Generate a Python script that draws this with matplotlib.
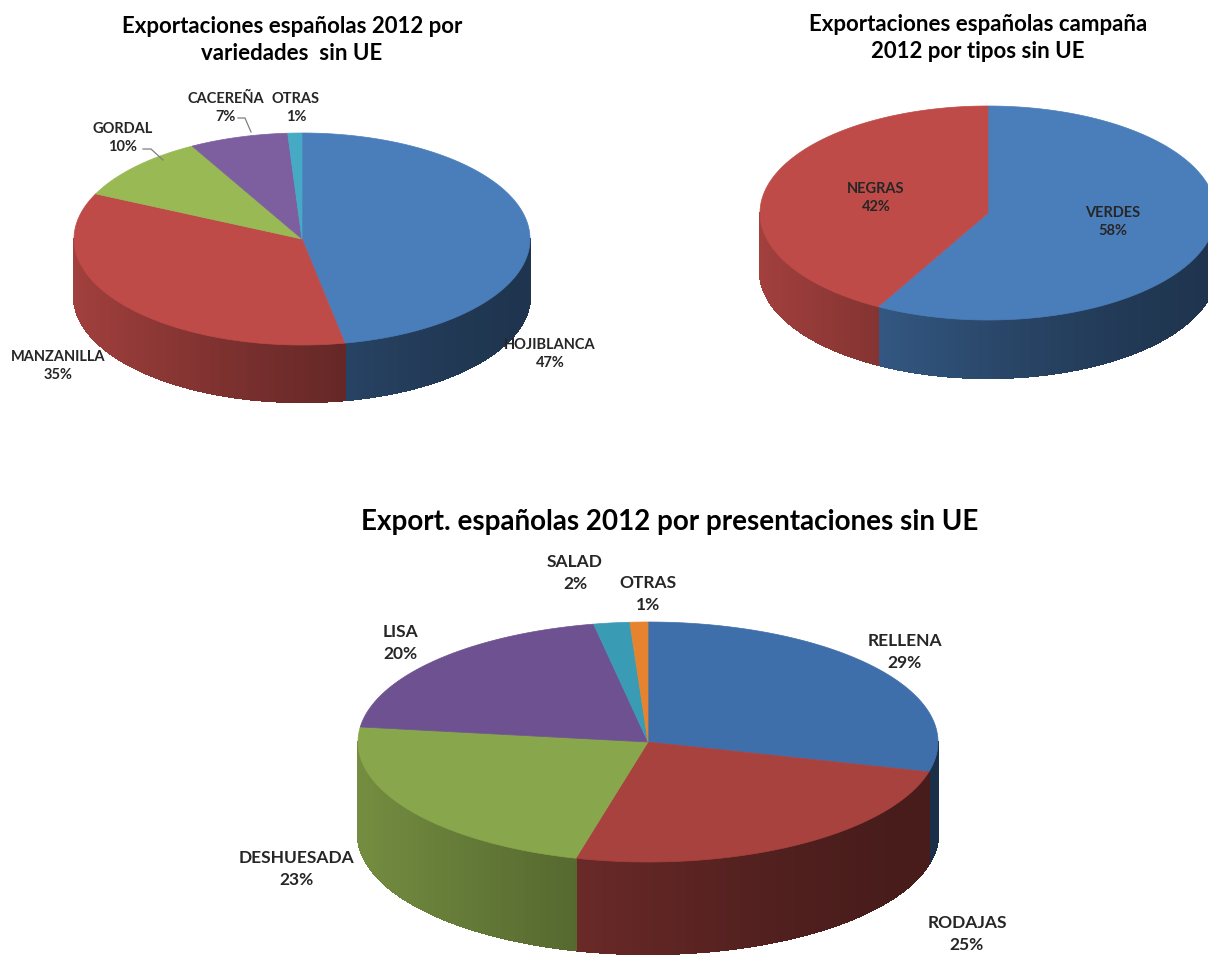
import numpy as np
import matplotlib.pyplot as plt
from matplotlib.patches import Polygon
from matplotlib.collections import PolyCollection
from matplotlib.colors import to_rgb

# Datos
variedades = ["HOJIBLANCA", "MANZANILLA", "GORDAL", "CACEREÑA", "OTRAS"]
variedades_pct = [47, 35, 10, 7, 1]

tipos = ["VERDES", "NEGRAS"]
tipos_pct = [58, 42]

presentaciones = ["RELLENA", "RODAJAS", "DESHUESADA", "LISA", "SALAD", "OTRAS"]
presentaciones_pct = [29, 25, 23, 20, 2, 1]

titulo1 = "Exportaciones españolas 2012 por\nvariedades  sin UE"
titulo2 = "Exportaciones españolas campaña\n2012 por tipos sin UE"
titulo3 = "Export. españolas 2012 por presentaciones sin UE"

colores1 = ["#4a7ebb", "#be4b48", "#98b954", "#7d5fa0", "#46aac5"]
colores2 = ["#4a7ebb", "#be4b48"]
colores3 = ["#3f6fab", "#a8423f", "#88a64b", "#6e5190", "#3a9bb5", "#e5832f"]

FUENTE = "Lato"


def sombra(color, u):
    # u: -1 izquierda, 1 derecha
    f = 0.42 + 0.43 * ((1 - u) / 2) ** 1.5
    r, g, b = to_rgb(color)
    return (r * f, g * f, b * f)


def tarta3d(ax, valores, colores, cx, cy, rx, ry, prof):
    total = float(sum(valores))
    bordes = np.concatenate([[0], np.cumsum(valores)]) / total * 2 * np.pi
    # laterales (solo la mitad frontal)
    for i, c in enumerate(colores):
        a0, a1 = bordes[i], bordes[i + 1]
        b0, b1 = max(a0, np.pi / 2), min(a1, 3 * np.pi / 2)
        if b1 <= b0:
            continue
        t = np.linspace(b0, b1, max(int((b1 - b0) * 80), 2))
        xs = cx + rx * np.sin(t)
        ys = cy - ry * np.cos(t)
        quads, cols = [], []
        for k in range(len(t) - 1):
            quads.append([(xs[k], ys[k]), (xs[k + 1], ys[k + 1]),
                          (xs[k + 1], ys[k + 1] + prof), (xs[k], ys[k] + prof)])
            cols.append(sombra(c, np.sin((t[k] + t[k + 1]) / 2)))
        ax.add_collection(PolyCollection(quads, facecolors=cols, edgecolors=cols,
                                         linewidths=1.0, antialiased=False,
                                         zorder=2))
    # caras superiores
    for i, c in enumerate(colores):
        a0, a1 = bordes[i], bordes[i + 1]
        t = np.linspace(a0, a1, max(int((a1 - a0) * 80), 2))
        pts = [(cx, cy)] + list(zip(cx + rx * np.sin(t), cy - ry * np.cos(t)))
        ax.add_patch(Polygon(pts, closed=True, facecolor=c, edgecolor=c,
                             linewidth=0.5, zorder=3))


def etiquetas(ax, nombres, valores, posiciones, size):
    for n, v, (x, y) in zip(nombres, valores, posiciones):
        ax.text(x, y, f"{n}\n{v}%", ha="center", va="center", fontsize=size,
                family=FUENTE, weight="bold", color="#262626",
                linespacing=1.4, zorder=5)


fig = plt.figure(figsize=(12.08, 9.6), dpi=100)
ax = fig.add_axes([0, 0, 1, 1])
ax.set_xlim(0, 1208)
ax.set_ylim(960, 0)
ax.axis("off")

# Gráfico 1: variedades
tarta3d(ax, variedades_pct, colores1, 302, 239, 228, 106, 57)
etiquetas(ax, variedades, variedades_pct,
          [(550, 354), (58, 366), (123, 138), (226, 108), (296, 108)], 10.5)
ax.plot([143, 151, 163], [149, 149, 160], color="#7f7f7f", lw=0.9, zorder=4)
ax.plot([238, 245, 251], [118, 118, 132], color="#7f7f7f", lw=0.9, zorder=4)
ax.text(292, 40, titulo1, ha="center", va="center", fontsize=16, family=FUENTE,
        weight="bold", color="black", linespacing=1.3)

# Gráfico 2: tipos
tarta3d(ax, tipos_pct, colores2, 988, 213, 228, 107, 58)
etiquetas(ax, tipos, tipos_pct, [(1113, 222), (876, 198)], 10.5)
ax.text(978, 38, titulo2, ha="center", va="center", fontsize=16, family=FUENTE,
        weight="bold", color="black", linespacing=1.3)

# Gráfico 3: presentaciones
tarta3d(ax, presentaciones_pct, colores3, 648, 742, 290, 120, 92)
etiquetas(ax, presentaciones, presentaciones_pct,
          [(905, 652), (967, 934), (297, 869), (400, 643), (575, 573), (648, 594)], 12.5)
ax.text(670, 522, titulo3, ha="center", va="center", fontsize=20, family=FUENTE,
        weight="bold", color="black")

fig.savefig("out.png", dpi=100, facecolor="white")
